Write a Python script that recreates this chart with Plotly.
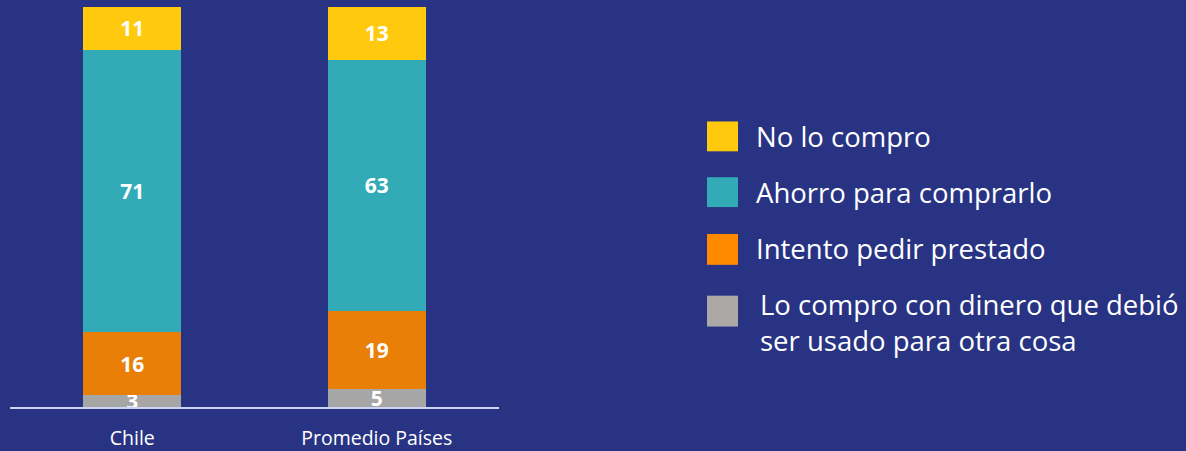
import plotly.graph_objects as go

W, H = 1186, 451

categories = ["Chile", "Promedio Países"]
series_names = ["Lo compro con dinero que debió ser usado para otra cosa",
                "Intento pedir prestado", "Ahorro para comprarlo", "No lo compro"]
gastado = [3.0, 4.6]
prestado = [15.7, 19.4]
ahorro = [70.6, 62.8]
no_compro = [10.7, 13.2]

bar_colors = ["#a6a6a6", "#ea7f07", "#32abb6", "#ffc90e"]
legend_colors = ["#ffc90e", "#32abb6", "#ff8a00", "#aba8a6"]
legend_labels = ["No lo compro", "Ahorro para comprarlo", "Intento pedir prestado",
                 "Lo compro con dinero que debió<br>ser usado para otra cosa"]

BG = "#283383"
FONT = "Open Sans"

fig = go.Figure()
for name, vals, col in zip(series_names, [gastado, prestado, ahorro, no_compro], bar_colors):
    fig.add_trace(go.Bar(
        x=categories, y=vals, name=name,
        marker=dict(color=col, line=dict(width=0)),
        texttemplate="%{y:.0f}", textposition="inside", insidetextanchor="middle",
        textangle=0,
        textfont=dict(family=FONT, size=21, color="white", weight="bold"),
        cliponaxis=False, showlegend=False,
    ))

fig.update_layout(
    barmode="stack", bargap=0.6,
    width=W, height=H,
    paper_bgcolor=BG, plot_bgcolor=BG,
    margin=dict(l=0, r=0, t=0, b=0),
    uniformtext=dict(mode="show", minsize=21),
    xaxis=dict(domain=[10 / W, 499 / W], showline=True, linecolor="#cdd4f2", linewidth=2,
               showgrid=False, zeroline=False, ticks="",
               tickfont=dict(family=FONT, size=19.5, color="white"), ticklabelstandoff=12),
    yaxis=dict(domain=[(H - 409) / H, (H - 7) / H], range=[0, 100], visible=False,
               showgrid=False, zeroline=False),
    font=dict(family=FONT),
)

# custom legend
sq_top = [122, 178, 235, 297]
sq_h = [30, 30, 31, 31]
text_y = [137, 193, 250, 324]
text_x = [754, 754, 754, 758]
for i, (col, lab) in enumerate(zip(legend_colors, legend_labels)):
    fig.add_shape(type="rect", xref="paper", yref="paper",
                  x0=707 / W, x1=738 / W,
                  y0=1 - (sq_top[i] + sq_h[i]) / H, y1=1 - sq_top[i] / H,
                  fillcolor=col, line=dict(width=0))
    fig.add_annotation(xref="paper", yref="paper", x=text_x[i] / W, y=1 - text_y[i] / H,
                       text=lab, showarrow=False, xanchor="left", yanchor="middle", align="left",
                       font=dict(family=FONT, size=27.5, color="white"))

fig.write_html("out.html", config={"displayModeBar": False},
               post_script="document.body.style.margin='0';document.body.style.overflow='hidden';")
